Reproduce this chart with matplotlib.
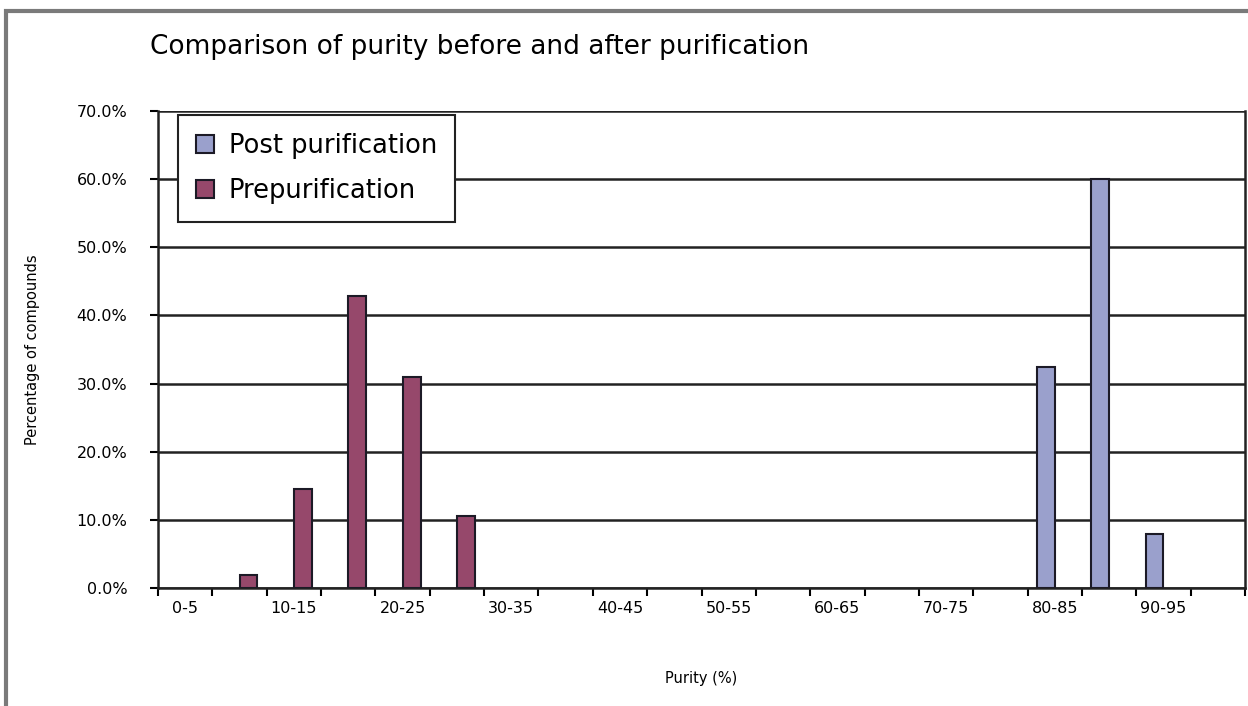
# Purity before / after purification, clustered bar chart
import matplotlib.pyplot as plt
import numpy as np
from matplotlib.patches import Rectangle

categories = ["0-5", "5-10", "10-15", "15-20", "20-25", "25-30", "30-35", "35-40",
              "40-45", "45-50", "50-55", "55-60", "60-65", "65-70", "70-75", "75-80",
              "80-85", "85-90", "90-95", "95-100"]
post_purification = [0, 0, 0, 0, 0, 0, 0, 0, 0, 0, 0, 0, 0, 0, 0, 0, 32.4, 60.0, 7.9, 0]
prepurification = [0, 1.9, 14.5, 42.8, 30.9, 10.6, 0, 0, 0, 0, 0, 0, 0, 0, 0, 0, 0, 0, 0, 0]

post_color = '#9aa0cc'
pre_color = '#96486b'
edge = '#1c1a26'

fig = plt.figure(figsize=(12.48, 7.06), dpi=100)
ax = fig.add_axes([0.1266, 0.1671, 0.871, 0.6757])

# grey outer frame of the chart area (cropped at right and bottom)
fig.patches.append(Rectangle((0.005, -0.05), 1.2, 1.035, transform=fig.transFigure,
                             fill=False, edgecolor='#7a7a7a', linewidth=3, zorder=10))

x = np.arange(len(categories))
w = 0.33
post = np.array(post_purification, dtype=float)
pre = np.array(prepurification, dtype=float)
# zero bins are not drawn (no flat outlines on the axis)
ax.bar(x[post > 0] - w / 2, post[post > 0], width=w, color=post_color, edgecolor=edge,
       linewidth=1.5, label="Post purification", zorder=3)
ax.bar(x[pre > 0] + w / 2, pre[pre > 0], width=w, color=pre_color, edgecolor=edge,
       linewidth=1.5, label="Prepurification", zorder=3)

ax.set_xlim(-0.5, len(categories) - 0.5)
ax.set_ylim(0, 70)
ax.set_yticks(np.arange(0, 71, 10))
ax.set_yticklabels([f"{v:.1f}%" for v in np.arange(0, 71, 10)], fontsize=11.5)
ax.yaxis.grid(True, color='#222222', linewidth=1.8, zorder=0)
ax.tick_params(axis='y', direction='out', length=6, width=1.5, pad=16)

# major ticks on category boundaries, labels on every other category
ax.set_xticks(np.arange(-0.5, len(categories), 1.0))
ax.set_xticklabels([])
ax.set_xticks(x[::2], minor=True)
ax.set_xticklabels(categories[::2], minor=True, fontsize=11.5)
ax.tick_params(axis='x', which='major', direction='out', length=6, width=1.5)
ax.tick_params(axis='x', which='minor', length=0, pad=9)

for s in ['left', 'bottom', 'right']:
    ax.spines[s].set_linewidth(1.8)
    ax.spines[s].set_color('#222222')
ax.spines['top'].set_visible(False)

ax.set_xlabel("Purity (%)", fontsize=10.5, labelpad=40)
ax.set_ylabel("Percentage of compounds", fontsize=10.5, labelpad=26)
fig.text(0.12, 0.933, "Comparison of purity before and after purification",
         fontsize=19, ha='left', va='center')

leg = ax.legend(loc='upper left', bbox_to_anchor=(0.018, 0.992), fontsize=18.5,
                frameon=True, fancybox=False, edgecolor='#222222', framealpha=1,
                handlelength=0.7, handleheight=0.7, handletextpad=0.6,
                borderpad=0.7, labelspacing=0.75, borderaxespad=0)
leg.get_frame().set_linewidth(1.5)
leg.set_zorder(5)

plt.savefig("out.png", dpi=100)
